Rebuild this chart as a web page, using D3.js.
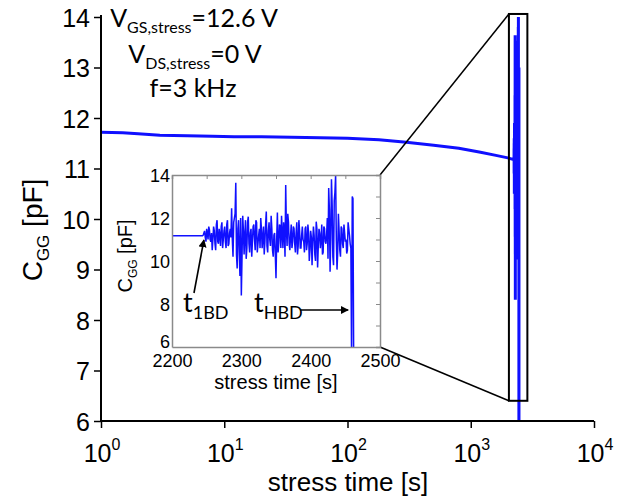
<!DOCTYPE html>
<html>
<head>
<meta charset="utf-8">
<script src="https://cdn.jsdelivr.net/npm/d3@7/dist/d3.min.js"></script>
<style>
  body { margin: 0; background: #fff; }
  svg { display: block; }
</style>
</head>
<body>
<svg id="chart"></svg>
<script>
// long-term trace before breakdown (main plot, log time)
var preTime = [1, 1.5, 2, 3, 5, 8, 12, 20, 35, 60, 100, 180, 300, 500, 800, 1200, 1600, 2000, 2200, 2244];
var preCap = [11.72, 11.71, 11.69, 11.66, 11.65, 11.64, 11.63, 11.63, 11.62, 11.61, 11.6, 11.57, 11.52, 11.46, 11.4, 11.32, 11.26, 11.21, 11.18, 11.17];

// breakdown region, even-second samples
var bdTime = [2246, 2248, 2250, 2252, 2254, 2256, 2258, 2260, 2262, 2264, 2266, 2268, 2270, 2272, 2274, 2276, 2278, 2280,
  2282, 2284, 2286, 2288, 2290, 2292, 2294, 2296, 2298, 2300, 2302, 2304, 2306, 2308, 2310, 2312, 2314, 2316, 2318, 2320,
  2322, 2324, 2326, 2328, 2330, 2332, 2334, 2336, 2338, 2340, 2342, 2344, 2346, 2348, 2350, 2352, 2354, 2356, 2358, 2360,
  2362, 2364, 2366, 2368, 2370, 2372, 2374, 2376, 2378, 2380, 2382, 2384, 2386, 2388, 2390, 2392, 2394, 2396, 2398, 2400,
  2402, 2404, 2406, 2408, 2410, 2412, 2414, 2416, 2418, 2420, 2422, 2424, 2426, 2428, 2430, 2432, 2434, 2436, 2438, 2440,
  2442, 2444, 2446, 2448, 2450, 2452, 2454, 2456, 2458, 2459, 2460, 2461, 2462];
var bdCap = [11.3, 11.1, 11.5, 11.0, 11.45, 10.9, 10.5, 11.6, 10.8, 11.7, 10.9, 11.5, 10.7, 11.8, 11.0, 11.6, 10.6, 11.9,
  10.8, 11.5, 12.45, 10.2, 12.0, 13.64, 9.65, 11.9, 9.3, 8.4, 12.1, 10.3, 11.9, 10.6, 12.06, 10.4, 11.5, 10.9, 11.7, 10.5,
  11.8, 10.8, 11.5, 12.0, 10.6, 11.6, 10.9, 12.3, 10.4, 11.8, 10.7, 11.5, 10.2, 11.3, 9.2, 12.25, 10.8, 11.6, 12.1, 10.6,
  11.4, 13.53, 10.7, 11.8, 10.5, 11.7, 10.9, 11.5, 10.4, 11.8, 10.7, 11.4, 10.6, 11.6, 10.9, 11.5, 10.5, 11.7, 10.0, 11.4,
  9.8, 11.6, 10.3, 11.83, 9.7, 11.5, 10.6, 11.7, 10.4, 11.5, 10.8, 12.0, 13.4, 9.5, 13.8, 10.2, 12.8, 14.0, 9.6, 12.2,
  10.5, 11.6, 10.8, 11.7, 10.9, 10.35, 11.8, 11.2, 10.6, 5.5, 13.0, 12.9, 5.5];

// breakdown region, odd-second samples
var bdTime2 = [2245, 2247, 2249, 2251, 2253, 2255, 2257, 2259, 2261, 2263, 2265, 2267, 2269, 2271, 2273, 2275, 2277, 2279,
  2281, 2283, 2285, 2287, 2289, 2291, 2293, 2295, 2297, 2299, 2301, 2303, 2305, 2307, 2309, 2311, 2313, 2315, 2317, 2319,
  2321, 2323, 2325, 2327, 2329, 2331, 2333, 2335, 2337, 2339, 2341, 2343, 2345, 2347, 2349, 2351, 2353, 2355, 2357, 2359,
  2361, 2363, 2365, 2367, 2369, 2371, 2373, 2375, 2377, 2379, 2381, 2383, 2385, 2387, 2389, 2391, 2393, 2395, 2397, 2399,
  2401, 2403, 2405, 2407, 2409, 2411, 2413, 2415, 2417, 2419, 2421, 2423, 2425, 2427, 2429, 2431, 2433, 2435, 2437, 2439,
  2441, 2443, 2445, 2447, 2449, 2451, 2453, 2455, 2457];
var bdCap2 = [11.2, 11.4, 10.9, 11.3, 11.6, 11.0, 11.3,
  11.0, 11.4, 10.5, 11.9, 10.8, 11.2, 11.6, 10.6, 11.4, 10.9, 11.7, 10.7, 11.3, 11.1,
  11.0, 11.8, 12.2, 10.3, 11.5, 10.4, 12.0,
  10.2, 11.4, 11.2, 10.1, 11.8, 10.8, 11.3, 10.2, 11.6, 11.0, 11.9, 10.4, 11.2, 10.6, 11.5, 11.1, 10.3, 11.7, 10.7, 11.4,
  11.0, 12.1, 10.5, 11.2, 10.3,
  11.0, 10.4, 11.7, 10.6, 11.3, 11.8, 10.2, 11.5, 12.2, 10.8, 11.2, 10.6, 11.6, 10.8, 11.3, 10.3, 11.9, 10.6, 11.2, 11.0,
  10.4, 11.6, 10.8, 11.3, 10.5, 11.1,
  10.9, 11.2, 10.0, 11.5, 10.7, 11.3, 11.0, 10.3, 11.6, 10.9, 11.2, 10.1, 12.4, 11.0, 12.6, 9.8, 13.2, 11.0, 10.4, 11.4,
  10.2, 11.5, 10.6, 11.3, 11.0, 10.5, 11.5, 10.8];

var mainXTicks = [1, 10, 100, 1000, 10000];
var mainYTicks = [6, 7, 8, 9, 10, 11, 12, 13, 14];
var insetXTicks = [2200, 2300, 2400, 2500];
var insetYTicks = [6, 8, 10, 12, 14];

// zoom box drawn on the main plot (time, pF)
var boxTime = [2040, 2880];
var boxCap = [6.4, 14.06];

var W = 623, H = 497;
var svg = d3.select('#chart').attr('width', W).attr('height', H);

var x = d3.scaleLog().domain([1, 1e4]).range([101, 594]);
var y = d3.scaleLinear().domain([6, 14]).range([421, 17]);
var ix = d3.scaleLinear().domain([2200, 2500]).range([172, 380]);
var iy = d3.scaleLinear().domain([6, 14]).range([347, 175]);

var arial = "'Liberation Sans', Arial, sans-serif";
var calibri = "Lato, 'Open Sans', sans-serif";

var defs = svg.append('defs');
defs.append('clipPath').attr('id', 'clipMain').append('rect')
  .attr('x', 101).attr('y', 0).attr('width', 493).attr('height', 421);
defs.append('clipPath').attr('id', 'clipInset').append('rect')
  .attr('x', 172).attr('y', 175).attr('width', 208).attr('height', 172);
defs.append('marker').attr('id', 'arrow').attr('viewBox', '0 0 10 10')
  .attr('refX', 9).attr('refY', 5).attr('markerWidth', 5).attr('markerHeight', 5)
  .attr('orient', 'auto').append('path').attr('d', 'M0,0L10,5L0,10z').attr('fill', '#000');

// merge the two sample sets in time order
var bdData = bdTime.map(function(t, i) { return [t, bdCap[i]]; })
  .concat(bdTime2.map(function(t, i) { return [t, bdCap2[i]]; }))
  .sort(function(a, b) { return a[0] - b[0]; });

// ---- main trace
var mainData = preTime.map(function(t, i) { return [t, preCap[i]]; }).concat(bdData);
svg.append('path')
  .datum(mainData)
  .attr('clip-path', 'url(#clipMain)')
  .attr('fill', 'none')
  .attr('stroke', '#1010ff')
  .attr('stroke-width', 3)
  .attr('d', d3.line().x(function(d) { return x(d[0]); }).y(function(d) { return y(d[1]); }));

// ---- main axes
var minorX = [];
[1, 10, 100, 1000].forEach(function(dec) {
  for (var k = 2; k <= 9; k++) minorX.push(dec * k);
});
var gx = svg.append('g').attr('transform', 'translate(0,421)');
gx.call(d3.axisBottom(x).tickValues(minorX).tickSize(4).tickFormat(''));
gx.call(d3.axisBottom(x).tickValues(mainXTicks).tickSize(7).tickFormat(''));
gx.selectAll('path.domain').attr('stroke-width', 2).attr('d', 'M101,0H594');
gx.selectAll('line').attr('stroke-width', 1.5);

var xl = svg.append('g');
mainXTicks.forEach(function(t, i) {
  var txt = xl.append('text').attr('x', x(t) + 1).attr('y', 462)
    .attr('text-anchor', 'middle').attr('font-family', arial).attr('font-size', 25);
  txt.append('tspan').text('10');
  txt.append('tspan').attr('dy', -12).attr('font-size', 16).text(i);
});

var minorY = [6.5, 7.5, 8.5, 9.5, 10.5, 11.5, 12.5, 13.5];
var gy = svg.append('g').attr('transform', 'translate(101,0)');
gy.call(d3.axisLeft(y).tickValues(minorY).tickSize(4).tickFormat(''));
gy.call(d3.axisLeft(y).tickValues(mainYTicks).tickSize(7).tickFormat(d3.format('d')).tickPadding(4));
gy.selectAll('path.domain').attr('stroke-width', 2).attr('d', 'M0,421V15');
gy.selectAll('line').attr('stroke-width', 1.5);
gy.selectAll('text').attr('font-family', arial).attr('font-size', 25).attr('fill', '#000').attr('dy', '0.36em');

svg.append('text').attr('x', 348).attr('y', 491).attr('text-anchor', 'middle')
  .attr('font-family', arial).attr('font-size', 26).text('stress time [s]');

var yt = svg.append('text').attr('transform', 'translate(42,230) rotate(-90)')
  .attr('text-anchor', 'middle').attr('font-family', arial).attr('font-size', 28);
yt.append('tspan').text('C');
yt.append('tspan').attr('font-size', 17).attr('dy', 7).text('GG');
yt.append('tspan').attr('dy', -7).text(' [pF]');

// ---- stress conditions
var ann = svg.append('g').attr('font-family', calibri).attr('font-size', 25).attr('text-anchor', 'middle');
var a1 = ann.append('text').attr('x', 194).attr('y', 27);
a1.append('tspan').text('V');
a1.append('tspan').attr('font-size', 16).attr('dy', 6).text('GS,stress');
a1.append('tspan').attr('dy', -6).text('=12.6 V');
var a2 = ann.append('text').attr('x', 195).attr('y', 63);
a2.append('tspan').text('V');
a2.append('tspan').attr('font-size', 16).attr('dy', 6).text('DS,stress');
a2.append('tspan').attr('dy', -6).text('=0 V');
ann.append('text').attr('x', 193).attr('y', 97).text('f=3 kHz');

// ---- zoom box and connector lines
svg.append('rect')
  .attr('x', x(boxTime[0])).attr('y', y(boxCap[1]))
  .attr('width', x(boxTime[1]) - x(boxTime[0])).attr('height', y(boxCap[0]) - y(boxCap[1]))
  .attr('fill', 'none').attr('stroke', '#000').attr('stroke-width', 2);
svg.append('line').attr('x1', x(boxTime[0])).attr('y1', y(boxCap[1]))
  .attr('x2', ix(2500)).attr('y2', iy(14)).attr('stroke', '#000').attr('stroke-width', 1.5);
svg.append('line').attr('x1', x(boxTime[0])).attr('y1', y(boxCap[0]))
  .attr('x2', ix(2500)).attr('y2', iy(6)).attr('stroke', '#000').attr('stroke-width', 1.5);

// ---- inset
var inset = svg.append('g');
inset.append('rect').attr('x', 172).attr('y', 175).attr('width', 208).attr('height', 172).attr('fill', '#fff');

var insetData = [[2200, 11.17], [2244, 11.17]].concat(bdData);
inset.append('path')
  .datum(insetData)
  .attr('clip-path', 'url(#clipInset)')
  .attr('fill', 'none')
  .attr('stroke', '#1010ff')
  .attr('stroke-width', 1.5)
  .attr('d', d3.line().x(function(d) { return ix(d[0]); }).y(function(d) { return iy(d[1]); }));

var grey = '#8a8a8a';
var ixMinor = [2250, 2300, 2350, 2400, 2450];
var iyMinor = [7, 9, 11, 13];
var ib = inset.append('g').attr('transform', 'translate(0,347)')
  .call(d3.axisBottom(ix).tickValues(ixMinor).tickSize(-4).tickFormat(''));
ib.call(d3.axisBottom(ix).tickValues(insetXTicks).tickSize(0).tickPadding(3).tickFormat(d3.format('d')));
var it = inset.append('g').attr('transform', 'translate(0,175)')
  .call(d3.axisTop(ix).tickValues(ixMinor).tickSize(-4).tickFormat(''));
var il = inset.append('g').attr('transform', 'translate(172,0)')
  .call(d3.axisLeft(iy).tickValues(iyMinor).tickSize(-4).tickFormat(''));
il.call(d3.axisLeft(iy).tickValues(insetYTicks).tickSize(0).tickPadding(2).tickFormat(d3.format('d')));
var ir = inset.append('g').attr('transform', 'translate(380,0)')
  .call(d3.axisRight(iy).tickValues(iyMinor.concat([8, 10, 12])).tickSize(-4).tickFormat(''));
[ib, it, il, ir].forEach(function(g) {
  g.selectAll('path.domain').attr('stroke', grey).attr('stroke-width', 1.5);
  g.selectAll('line').attr('stroke', grey).attr('stroke-width', 1);
  g.selectAll('text').attr('font-family', arial).attr('font-size', 18).attr('fill', '#000');
});
ib.selectAll('text').attr('dy', '0.95em');
il.selectAll('text').attr('dy', '0.36em');
il.selectAll('.tick').filter(function(d) { return d === 6; }).select('text').attr('dy', '0.05em');

inset.append('text').attr('x', 276).attr('y', 389).attr('text-anchor', 'middle')
  .attr('font-family', arial).attr('font-size', 20).text('stress time [s]');
var iyt = inset.append('text').attr('transform', 'translate(132,256) rotate(-90)')
  .attr('text-anchor', 'middle').attr('font-family', arial).attr('font-size', 20);
iyt.append('tspan').text('C');
iyt.append('tspan').attr('font-size', 12).attr('dy', 5).text('GG');
iyt.append('tspan').attr('dy', -5).text(' [pF]');

// breakdown labels
var lab = inset.append('g').attr('font-family', calibri).attr('font-size', 27);
var t1 = lab.append('text').attr('x', 183).attr('y', 312);
t1.append('tspan').text('t');
t1.append('tspan').attr('font-size', 18).attr('dy', 7).text('1BD');
var t2 = lab.append('text').attr('x', 254).attr('y', 312);
t2.append('tspan').text('t');
t2.append('tspan').attr('font-size', 18).attr('dy', 7).text('HBD');

inset.append('line').attr('x1', 194).attr('y1', 293).attr('x2', ix(2246)).attr('y2', 240)
  .attr('stroke', '#000').attr('stroke-width', 1.6).attr('marker-end', 'url(#arrow)');
inset.append('line').attr('x1', 300).attr('y1', 310).attr('x2', ix(2454)).attr('y2', 310)
  .attr('stroke', '#000').attr('stroke-width', 1.6).attr('marker-end', 'url(#arrow)');
</script>
</body>
</html>
